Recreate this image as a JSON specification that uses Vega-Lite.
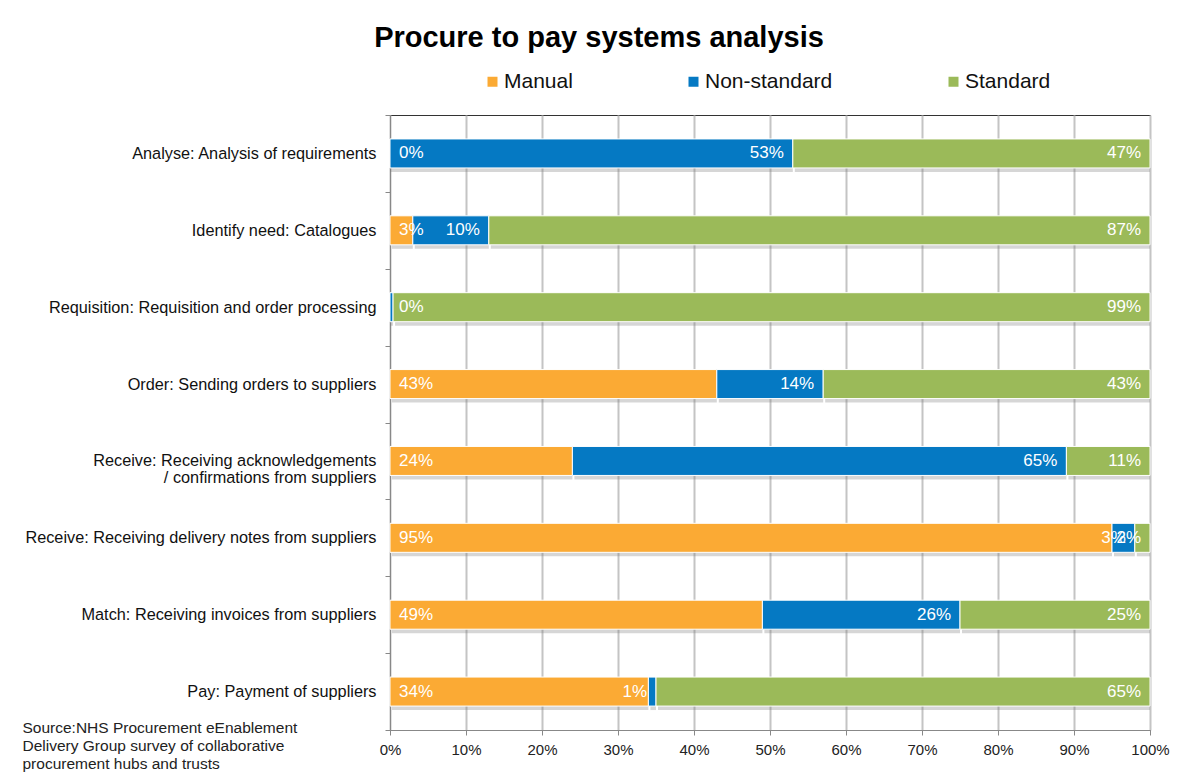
{
  "$schema": "https://vega.github.io/schema/vega-lite/v6.json",
  "width": 760,
  "height": 615,
  "autosize": {"type": "none"},
  "padding": {"left": 390, "top": 115, "right": 29, "bottom": 46},
  "background": "white",
  "config": {
    "font": "Liberation Sans",
    "view": {"stroke": "#333", "strokeWidth": 1}
  },
  "title": {
    "text": "Procure to pay systems analysis",
    "fontSize": 29,
    "fontWeight": "bold",
    "color": "#000",
    "anchor": "middle",
    "dx": -171,
    "offset": 18
  },
  "data": {
    "values": [
      {"category": "Analyse: Analysis of requirements", "type": "Manual", "value": 0},
      {"category": "Analyse: Analysis of requirements", "type": "Non-standard", "value": 0.53},
      {"category": "Analyse: Analysis of requirements", "type": "Standard", "value": 0.47},
      {"category": "Identify need: Catalogues", "type": "Manual", "value": 0.03},
      {"category": "Identify need: Catalogues", "type": "Non-standard", "value": 0.10},
      {"category": "Identify need: Catalogues", "type": "Standard", "value": 0.87},
      {"category": "Requisition: Requisition and order processing", "type": "Manual", "value": 0},
      {"category": "Requisition: Requisition and order processing", "type": "Non-standard", "value": 0.004},
      {"category": "Requisition: Requisition and order processing", "type": "Standard", "value": 0.99},
      {"category": "Order: Sending orders to suppliers", "type": "Manual", "value": 0.43},
      {"category": "Order: Sending orders to suppliers", "type": "Non-standard", "value": 0.14},
      {"category": "Order: Sending orders to suppliers", "type": "Standard", "value": 0.43},
      {"category": "Receive: Receiving acknowledgements / confirmations from suppliers", "type": "Manual", "value": 0.24},
      {"category": "Receive: Receiving acknowledgements / confirmations from suppliers", "type": "Non-standard", "value": 0.65},
      {"category": "Receive: Receiving acknowledgements / confirmations from suppliers", "type": "Standard", "value": 0.11},
      {"category": "Receive: Receiving delivery notes from suppliers", "type": "Manual", "value": 0.95},
      {"category": "Receive: Receiving delivery notes from suppliers", "type": "Non-standard", "value": 0.03},
      {"category": "Receive: Receiving delivery notes from suppliers", "type": "Standard", "value": 0.02},
      {"category": "Match: Receiving invoices from suppliers", "type": "Manual", "value": 0.49},
      {"category": "Match: Receiving invoices from suppliers", "type": "Non-standard", "value": 0.26},
      {"category": "Match: Receiving invoices from suppliers", "type": "Standard", "value": 0.25},
      {"category": "Pay: Payment of suppliers", "type": "Manual", "value": 0.34},
      {"category": "Pay: Payment of suppliers", "type": "Non-standard", "value": 0.01},
      {"category": "Pay: Payment of suppliers", "type": "Standard", "value": 0.65}
    ]
  },
  "transform": [
    {
      "stack": "value",
      "groupby": ["category"],
      "sort": [{"field": "type", "order": "ascending"}],
      "offset": "normalize",
      "as": ["x0", "x1"]
    }
  ],
  "encoding": {
    "y": {
      "field": "category",
      "type": "nominal",
      "sort": null,
      "scale": {"paddingInner": 0, "paddingOuter": 0},
      "axis": {
        "title": null,
        "labelFontSize": 16.3,
        "labelColor": "#111",
        "labelLimit": 400,
        "labelPadding": 9,
        "labelLineHeight": 17,
        "tickBand": "extent",
        "ticks": true,
        "tickSize": 5,
        "tickColor": "#888",
        "domainColor": "#888",
        "grid": false,
        "labelExpr": "datum.label == 'Receive: Receiving acknowledgements / confirmations from suppliers' ? ['Receive: Receiving acknowledgements', '/ confirmations from suppliers'] : datum.label"
      }
    }
  },
  "layer": [
    {
      "mark": {"type": "bar", "size": 29, "color": "#777", "opacity": 0.3, "yOffset": 4, "xOffset": 2},
      "encoding": {
        "x": {
          "field": "x0",
          "type": "quantitative",
          "scale": {"domain": [0, 1], "nice": false},
          "title": ["Source:NHS Procurement eEnablement", "Delivery Group survey of  collaborative", "procurement hubs and trusts"],
          "axis": {
            "format": ".0%",
            "values": [0, 0.1, 0.2, 0.3, 0.4, 0.5, 0.6, 0.7, 0.8, 0.9, 1],
            "grid": true,
            "gridColor": "#c4c4c4",
            "gridWidth": 2,
            "domainColor": "#888",
            "tickColor": "#888",
            "tickSize": 5,
            "labelFlush": false,
            "labelFontSize": 15,
            "labelColor": "#222",
            "labelPadding": 7,
            "titleX": -368,
            "titleY": 2,
            "titleAlign": "left",
            "titleBaseline": "alphabetic",
            "titleFontSize": 15.5,
            "titleFontWeight": "normal",
            "titleColor": "#222",
            "titleLineHeight": 18
          }
        },
        "x2": {"field": "x1"}
      }
    },
    {
      "mark": {"type": "bar", "size": 29, "stroke": "white", "strokeWidth": 1},
      "encoding": {
        "x": {"field": "x0", "type": "quantitative"},
        "x2": {"field": "x1"},
        "color": {
          "field": "type",
          "type": "nominal",
          "scale": {"domain": ["Manual", "Non-standard", "Standard"], "range": ["#FBAA34", "#0579C3", "#9BBA59"]},
          "legend": {
            "orient": "none",
            "legendX": 92,
            "legendY": -44,
            "direction": "horizontal",
            "title": null,
            "symbolType": "square",
            "symbolSize": 100,
            "symbolStrokeWidth": 0,
            "labelFontSize": 21,
            "labelColor": "#111",
            "columnPadding": 110,
            "labelOffset": 1
          }
        }
      }
    },
    {
      "transform": [{"filter": "datum.type == 'Manual'"}],
      "mark": {"type": "text", "align": "left", "baseline": "middle", "dx": 9, "fontSize": 17, "color": "white"},
      "encoding": {
        "x": {"field": "x0", "type": "quantitative"},
        "text": {"field": "value", "type": "quantitative", "format": ".0%"}
      }
    },
    {
      "transform": [{"filter": "datum.type != 'Manual' && datum.value >= 0.005"}],
      "mark": {"type": "text", "align": "right", "baseline": "middle", "dx": -9, "fontSize": 17, "color": "white"},
      "encoding": {
        "x": {"field": "x1", "type": "quantitative"},
        "text": {"field": "value", "type": "quantitative", "format": ".0%"}
      }
    }
  ]
}
